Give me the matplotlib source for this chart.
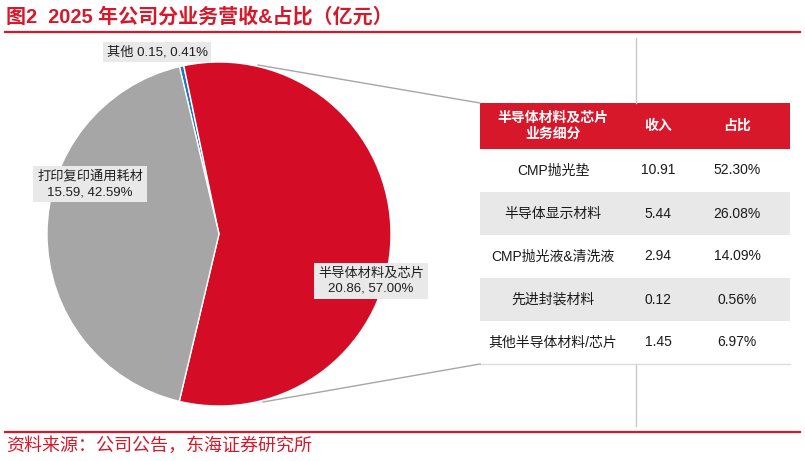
import matplotlib
matplotlib.use("Agg")
import matplotlib.pyplot as plt
from matplotlib.patches import Rectangle

plt.rcParams['font.family'] = ['Liberation Sans', 'Noto Sans CJK SC', 'DejaVu Sans']

# ---- data ----
pie_labels = ["其他", "半导体材料及芯片", "打印复印通用耗材"]
pie_values = [0.15, 20.86, 15.59]
pie_pcts = ["0.41%", "57.00%", "42.59%"]
pie_colors = ["#1f77c4", "#d40c26", "#a6a6a6"]

table_header = ["半导体材料及芯片\n业务细分", "收入", "占比"]
seg_names = ["CMP抛光垫", "半导体显示材料", "CMP抛光液&清洗液", "先进封装材料", "其他半导体材料/芯片"]
seg_revenue = ["10.91", "5.44", "2.94", "0.12", "1.45"]
seg_share = ["52.30%", "26.08%", "14.09%", "0.56%", "6.97%"]

title = "图2  2025 年公司分业务营收&占比（亿元）"
source = "资料来源：公司公告，东海证券研究所"

RED = "#d7182a"
W, H = 805, 461

fig = plt.figure(figsize=(W / 100, H / 100), dpi=100)
ax = fig.add_axes([0, 0, 1, 1])

def Y(y):
    return H - y

# pie
cx, cy, r = 219, 234, 172
ax.pie(pie_values, colors=pie_colors, startangle=103.3, counterclock=False,
       center=(cx, Y(cy)), radius=r, frame=True,
       wedgeprops=dict(edgecolor="white", linewidth=1.0))

ax.set_xlim(0, W)
ax.set_ylim(0, H)
ax.set_aspect('auto')
ax.axis('off')

# title & rules
ax.text(6, Y(17), title, color=RED, fontsize=14.4, fontweight='bold', va='center', ha='left')
ax.plot([5, 800], [Y(32), Y(32)], color=RED, lw=1.6)
ax.plot([5, 800], [Y(432), Y(432)], color=RED, lw=1.6)
ax.text(6, Y(446), source, color=RED, fontsize=13, va='center', ha='left')

# panel frame lines
gcol = "#c8c8c8"
ax.plot([636, 636], [Y(38), Y(103)], color=gcol, lw=1.0)
ax.plot([636, 636], [Y(364), Y(426)], color=gcol, lw=1.0)
ax.plot([480, 790], [Y(364), Y(364)], color="#dcdcdc", lw=1.0)

# connector lines
ax.plot([258, 480], [Y(65), Y(103)], color="#a6a6a6", lw=1.0)
ax.plot([263, 480], [Y(402), Y(364)], color="#a6a6a6", lw=1.0)

# pie labels
lab_kw = dict(fontsize=9.5, color="#1f1f1f", ha='center', va='center',
              bbox=dict(boxstyle='square,pad=0.3', fc='#e9e9e9', ec='none'))
ax.text(157, Y(52), f"{pie_labels[0]} {pie_values[0]:.2f}, {pie_pcts[0]}", **lab_kw)
ax.text(371, Y(281), f"{pie_labels[1]}\n{pie_values[1]:.2f}, {pie_pcts[1]}", linespacing=1.4, **lab_kw)
ax.text(90, Y(184), f"{pie_labels[2]}\n{pie_values[2]:.2f}, {pie_pcts[2]}", linespacing=1.4, **lab_kw)

# table
tx0, tx1 = 480, 790
col_centers = [553, 658, 737]
hy0, hy1 = 103, 149
row_edges = [149, 192, 235, 278, 321, 364]
ax.add_patch(Rectangle((tx0, Y(hy1)), tx1 - tx0, hy1 - hy0, fc=RED, ec='none'))
for c, t in zip(col_centers, table_header):
    ax.text(c, Y((hy0 + hy1) / 2), t, color='white', fontsize=10, fontweight='bold',
            ha='center', va='center', linespacing=1.2)
for i, (n, v, s) in enumerate(zip(seg_names, seg_revenue, seg_share)):
    y0, y1 = row_edges[i], row_edges[i + 1]
    fc = '#ffffff' if i % 2 == 0 else '#e8e8e8'
    ax.add_patch(Rectangle((tx0, Y(y1)), tx1 - tx0, y1 - y0, fc=fc, ec='none'))
    ym = Y((y0 + y1) / 2)
    for c, t in zip(col_centers, [n, v, s]):
        ax.text(c, ym, t, color='#1a1a1a', fontsize=10, ha='center', va='center')

fig.savefig("out.png", dpi=100)
